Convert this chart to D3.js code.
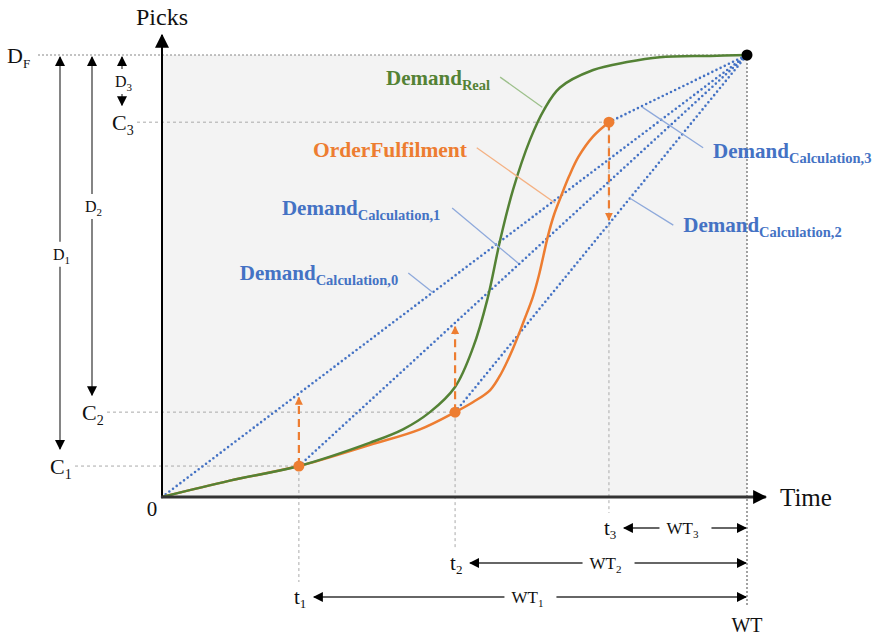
<!DOCTYPE html>
<html>
<head>
<meta charset="utf-8">
<script src="https://cdn.jsdelivr.net/npm/d3@7"></script>
<style>
  body { margin: 0; background: #fff; }
</style>
</head>
<body>
<div id="container"></div>
<script>
// time in % of WT, picks in % of D_F
let checkIds = ["1", "2", "3"];
let checkTimes = [23.4, 50.1, 76.4];
let checkPicks = [7.0, 19.2, 84.8];
let finalTime = 100;
let finalPicks = 100;

let realTime  = [0, 11.6, 23.4, 35.6, 41.2, 45.8, 50.1, 53.2, 55.6, 57.8, 60.0, 62.9, 65.3, 68.0, 73.7, 79.5, 85.1, 93.7, 100];
let realPicks = [0, 3.7, 7.0, 12.3, 15.3, 19.2, 24.9, 33.9, 44.6, 58.1, 69.5, 80.8, 87.6, 92.6, 96.6, 98.4, 99.5, 99.8, 100];

let fulTime  = [0, 11.6, 23.4, 35.6, 44.1, 50.1, 53.2, 56.1, 58.0, 60.0, 61.9, 63.4, 64.4, 65.2, 66.0, 67.0, 68.2, 69.6, 71.2, 73.7, 76.4];
let fulPicks = [0, 3.7, 7.0, 11.8, 15.3, 19.2, 21.5, 24.2, 28.0, 33.6, 40.0, 45.3, 50.0, 54.6, 59.2, 63.8, 68.0, 72.6, 77.0, 81.6, 84.8];

let w = 877;
let h = 636;
let green = "#548235";
let orange = "#ed7d31";
let blue = "#4472c4";
let serif = "'Liberation Serif'";

let viz = d3.select("#container")
  .append("svg")
    .attr("width", w)
    .attr("height", h)
    .style("background-color", "white")
;

let xScale = d3.scaleLinear().domain([0, 100]).range([162, 747]);
let yScale = d3.scaleLinear().domain([0, 100]).range([497, 55]);

let defs = viz.append("defs");
function arrowMarker(id, color, size) {
  defs.append("marker")
    .attr("id", id)
    .attr("viewBox", "0 0 10 10")
    .attr("refX", 9)
    .attr("refY", 5)
    .attr("markerWidth", size)
    .attr("markerHeight", size)
    .attr("markerUnits", "userSpaceOnUse")
    .attr("orient", "auto-start-reverse")
    .append("path")
      .attr("d", "M0,0L10,5L0,10Z")
      .attr("fill", color);
}
arrowMarker("blackArrow", "#000", 10);
arrowMarker("bigArrow", "#000", 14);
arrowMarker("orangeArrow", orange, 8);

// shaded plot area
viz.append("rect")
  .attr("x", xScale(0))
  .attr("y", yScale(finalPicks))
  .attr("width", xScale(finalTime) - xScale(0))
  .attr("height", yScale(0) - yScale(finalPicks))
  .attr("fill", "#f3f3f3");

let guides = viz.append("g").attr("class", "guides");

// D_F line
guides.append("line")
  .attr("x1", 38).attr("x2", xScale(finalTime))
  .attr("y1", yScale(finalPicks)).attr("y2", yScale(finalPicks))
  .attr("stroke", "#888").attr("stroke-width", 1.2).attr("stroke-dasharray", "2,2");

// WT vertical
guides.append("line")
  .attr("x1", xScale(finalTime)).attr("x2", xScale(finalTime))
  .attr("y1", yScale(finalPicks)).attr("y2", 607)
  .attr("stroke", "#666").attr("stroke-width", 1.2).attr("stroke-dasharray", "2,2");

// left arrows positions
let leftX = [60, 92, 122];
let leftLabelPicks = [54.8, 65.6, 93.9];
let rowY = [597, 563, 528];

checkIds.forEach(function(id, i){
  let cy = yScale(checkPicks[i]);
  let cx = xScale(checkTimes[i]);
  // horizontal guide
  guides.append("line")
    .attr("x1", leftX[i] + 15).attr("x2", cx)
    .attr("y1", cy).attr("y2", cy)
    .attr("stroke", "#aaa").attr("stroke-width", 1).attr("stroke-dasharray", "3,3");
  // vertical guide
  guides.append("line")
    .attr("x1", cx).attr("x2", cx)
    .attr("y1", cy).attr("y2", rowY[i] - 15)
    .attr("stroke", "#aaa").attr("stroke-width", 1).attr("stroke-dasharray", "3,3");
});

// calculated demand lines
let calcStarts = [{t: 0, p: 0}].concat(checkTimes.map(function(t, i){ return {t: t, p: checkPicks[i]}; }));
let calcLine = d3.line().x(function(d){ return xScale(d.t); }).y(function(d){ return yScale(d.p); });

viz.append("g").selectAll("path")
  .data(calcStarts)
  .enter()
  .append("path")
    .attr("d", function(d){ return calcLine([d, {t: finalTime, p: finalPicks}]); })
    .attr("fill", "none")
    .attr("stroke", blue)
    .attr("stroke-width", 2.6)
    .attr("stroke-linecap", "round")
    .attr("stroke-dasharray", "0,4.6");

function calcValue(k, t){
  let s = calcStarts[k];
  return s.p + (t - s.t) * (finalPicks - s.p) / (finalTime - s.t);
}

// curves
let curve = d3.line()
  .x(function(d){ return xScale(d[0]); })
  .y(function(d){ return yScale(d[1]); })
  .curve(d3.curveCatmullRom.alpha(0.5));

viz.append("path")
  .datum(fulTime.map(function(t, i){ return [t, fulPicks[i]]; }))
  .attr("d", curve)
  .attr("fill", "none")
  .attr("stroke", orange)
  .attr("stroke-width", 2.5);

viz.append("path")
  .datum(realTime.map(function(t, i){ return [t, realPicks[i]]; }))
  .attr("d", curve)
  .attr("fill", "none")
  .attr("stroke", green)
  .attr("stroke-width", 2.5);

// orange dashed arrows
checkIds.forEach(function(id, i){
  let y0 = yScale(checkPicks[i]);
  let y1 = yScale(calcValue(i, checkTimes[i]));
  let dir = y1 < y0 ? 1 : -1;
  viz.append("line")
    .attr("x1", xScale(checkTimes[i])).attr("x2", xScale(checkTimes[i]))
    .attr("y1", y0).attr("y2", y1 + dir * 4)
    .attr("stroke", orange)
    .attr("stroke-width", 2.2)
    .attr("stroke-dasharray", "8,5")
    .attr("marker-end", "url(#orangeArrow)");
});

// dots
viz.append("g").selectAll("circle")
  .data(checkTimes)
  .enter()
  .append("circle")
    .attr("cx", function(d){ return xScale(d); })
    .attr("cy", function(d, i){ return yScale(checkPicks[i]); })
    .attr("r", 5.5)
    .attr("fill", orange);

viz.append("circle")
  .attr("cx", xScale(finalTime))
  .attr("cy", yScale(finalPicks))
  .attr("r", 5.5)
  .attr("fill", "#000");

// axes
viz.append("line")
  .attr("x1", xScale(0)).attr("x2", xScale(0))
  .attr("y1", yScale(0) + 1).attr("y2", yScale(104.5))
  .attr("stroke", "#000").attr("stroke-width", 2)
  .attr("marker-end", "url(#bigArrow)");
viz.append("line")
  .attr("x1", xScale(0) - 1).attr("x2", xScale(103.2))
  .attr("y1", yScale(0)).attr("y2", yScale(0))
  .attr("stroke", "#333").attr("stroke-width", 3)
  .attr("marker-end", "url(#bigArrow)");

function label(text, x, y, size, anchor){
  return viz.append("text")
    .text(text)
    .attr("x", x)
    .attr("y", y)
    .style("font-family", serif)
    .style("font-size", size + "px")
    .attr("text-anchor", anchor || "start")
    .attr("fill", "#111");
}

label("Picks", xScale(0), 25, 24, "middle");
label("Time", 780, 506, 25);
label("0", xScale(0) - 10, 516, 21, "middle");

// D_F label
let df = label("D", 7, yScale(finalPicks) + 8, 22);
df.append("tspan").text("F").style("font-size", "13px").attr("dy", 5);

// left D arrows and C labels
checkIds.forEach(function(id, i){
  let x = leftX[i];
  let top = yScale(finalPicks) + 2;
  let bottom = yScale(checkPicks[i]) - 17;
  let ly = yScale(leftLabelPicks[i]);
  let col = "#666";
  viz.append("line")
    .attr("x1", x).attr("x2", x)
    .attr("y1", ly - 13).attr("y2", top)
    .attr("stroke", col).attr("stroke-width", 1.6)
    .attr("marker-end", "url(#blackArrow)");
  viz.append("line")
    .attr("x1", x).attr("x2", x)
    .attr("y1", ly + 12).attr("y2", bottom)
    .attr("stroke", col).attr("stroke-width", 1.6)
    .attr("marker-end", "url(#blackArrow)");
  let dl = label("D", x - 7, ly + 5, 16);
  dl.append("tspan").text(id).style("font-size", "11px").attr("dy", 4);
  let cl = label("C", x - 10, yScale(checkPicks[i]) + 8, 22);
  cl.append("tspan").text(id).style("font-size", "14px").attr("dy", 5);
});

// bottom t / WT arrows
checkIds.forEach(function(id, i){
  let y = rowY[i];
  let x0 = xScale(checkTimes[i]);
  let x1 = xScale(finalTime) - 1;
  let tl = label("t", x0 - 5, y + 7, 21);
  tl.append("tspan").text(id).style("font-size", "13px").attr("dy", 4);
  let mid = (x0 + 16 + x1) / 2;
  viz.append("line")
    .attr("x1", mid - 26).attr("x2", x0 + 15)
    .attr("y1", y).attr("y2", y)
    .attr("stroke", "#333").attr("stroke-width", 1.3)
    .attr("marker-end", "url(#blackArrow)");
  viz.append("line")
    .attr("x1", mid + 26).attr("x2", x1)
    .attr("y1", y).attr("y2", y)
    .attr("stroke", "#333").attr("stroke-width", 1.3)
    .attr("marker-end", "url(#blackArrow)");
  let wl = label("WT", mid - 3, y + 6, 17, "middle");
  wl.append("tspan").text(id).style("font-size", "11px").attr("dy", 4);
});
label("WT", xScale(finalTime), 632, 20, "middle");

// annotations with leader lines (time %, picks %)
let notes = [
  {main: "Demand", sub: "Real", color: green, lead: "#9dc08b", t: 38.3, p: 93.2, l: [[57.8, 95.0], [65.0, 88.2]]},
  {main: "OrderFulfilment", sub: "", color: orange, lead: "#f4b183", t: 25.8, p: 76.9, l: [[53.8, 79.0], [67.2, 66.5]]},
  {main: "Demand", sub: "Calculation,3", color: blue, lead: "#8ea9db", t: 94.2, p: 76.7, l: [[82.1, 88.2], [92.5, 79.0]]},
  {main: "Demand", sub: "Calculation,2", color: blue, lead: "#8ea9db", t: 89.1, p: 60.0, l: [[80.0, 67.6], [87.4, 61.5]]},
  {main: "Demand", sub: "Calculation,1", color: blue, lead: "#8ea9db", t: 20.5, p: 63.8, l: [[49.6, 65.4], [60.9, 52.9]]},
  {main: "Demand", sub: "Calculation,0", color: blue, lead: "#8ea9db", t: 13.3, p: 49.1, l: [[42.1, 50.7], [46.2, 46.4]]}
];

notes.forEach(function(n){
  viz.append("line")
    .attr("x1", xScale(n.l[0][0])).attr("y1", yScale(n.l[0][1]))
    .attr("x2", xScale(n.l[1][0])).attr("y2", yScale(n.l[1][1]))
    .attr("stroke", n.lead).attr("stroke-width", 1.3);
  let t = viz.append("text")
    .attr("x", xScale(n.t))
    .attr("y", yScale(n.p))
    .style("font-family", serif)
    .style("font-weight", "bold")
    .style("font-size", (n.sub ? 21 : 21.5) + "px")
    .attr("fill", n.color)
    .text(n.main);
  if (n.sub) {
    t.append("tspan").text(n.sub).style("font-size", "14.5px").attr("dy", 5);
  }
});
</script>
</body>
</html>
